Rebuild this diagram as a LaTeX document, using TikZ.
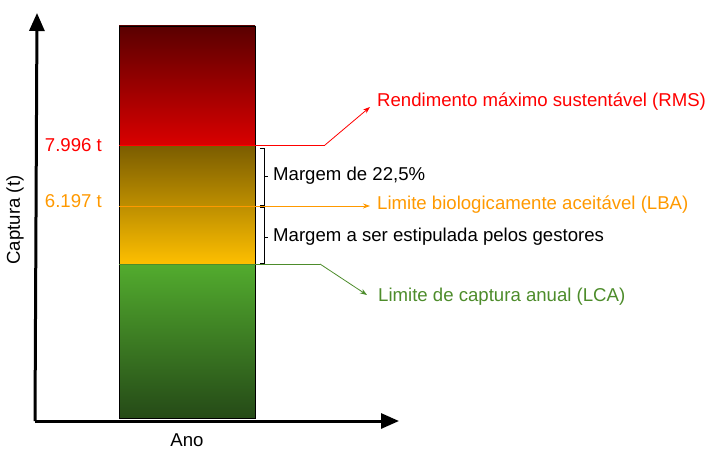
\documentclass[tikz,border=0pt]{standalone}
\usepackage{fontspec}
\setmainfont{Liberation Sans}
\usetikzlibrary{arrows.meta}
\definecolor{rmsred}{HTML}{FF0000}
\definecolor{lbaorange}{HTML}{FF9900}
\definecolor{lcagreen}{HTML}{4D8C2B}
\definecolor{redtop}{HTML}{5A0000}
\definecolor{redbot}{HTML}{D90000}
\definecolor{ortop}{HTML}{7A5C00}
\definecolor{orbot}{HTML}{FFC000}
\definecolor{grtop}{HTML}{52AB2E}
\definecolor{grbot}{HTML}{254A17}
\begin{document}
\begin{tikzpicture}[x=1pt,y=-1pt,
  every node/.style={font=\fontsize{18.6}{22}\selectfont, inner sep=0pt},
  axis/.style={line width=3pt, -{Triangle[length=18pt,width=15pt]}},
  lead/.style={line width=0.8pt},
  leadarrow/.style={line width=0.8pt, -{Stealth[length=7pt,width=5pt]}},
  brace/.style={line width=0.8pt, black}]
\useasboundingbox (0,0) rectangle (711,452);
% bar sections
\shade[top color=redtop, bottom color=redbot] (119,26) rectangle (255,145);
\shade[top color=ortop, bottom color=orbot] (119,145) rectangle (255,265);
\shade[top color=grtop, bottom color=grbot] (119,265) rectangle (255,418);
\draw[line width=0.8pt] (119,26) rectangle (255,418);
% axes
\coordinate (origin) at (35,421);
\coordinate (ytip) at (37,13);
\coordinate (xtip) at (399,421);
\draw[axis] (origin) -- (ytip);
\draw[axis] (origin) -- (xtip);
\node[rotate=90] (ylab) at (15,220) {Captura (t)};
\node (xlab) at (187,440) {Ano};
% value labels
\node[anchor=east, text=rmsred] (v1) at (102,145) {7.996 t};
\node[anchor=east, text=lbaorange] (v2) at (102,201) {6.197 t};
% leader lines
\coordinate (rmsA) at (119,145);
\coordinate (rmsB) at (325,145);
\node[anchor=west, text=rmsred] (rms) at (377,102) {Rendimento máximo sustentável (RMS)};
\draw[lead, rmsred] (rmsA) -- (rmsB);
\draw[leadarrow, rmsred] (rmsB) -- (370,107);
\coordinate (lbaA) at (119,206);
\node[anchor=west, text=lbaorange] (lba) at (377,205) {Limite biologicamente aceitável (LBA)};
\draw[leadarrow, lbaorange] (lbaA) -- (370,206);
\coordinate (lcaA) at (119,264);
\coordinate (lcaB) at (320,264);
\node[anchor=west, text=lcagreen] (lca) at (378,297) {Limite de captura anual (LCA)};
\draw[lead, lcagreen] (lcaA) -- (lcaB);
\draw[leadarrow, lcagreen] (lcaB) -- (367,295);
% brackets
\draw[brace] (260,148) -- (264,148) -- (264,205) -- (260,205);
\draw[brace] (264,176) -- (268,176);
\draw[brace] (260,207) -- (264,207) -- (264,263) -- (260,263);
\draw[brace] (264,237) -- (268,237);
\node[anchor=west] (m1) at (273,176) {Margem de 22,5\%};
\node[anchor=west] (m2) at (273,237) {Margem a ser estipulada pelos gestores};
\end{tikzpicture}
\end{document}
